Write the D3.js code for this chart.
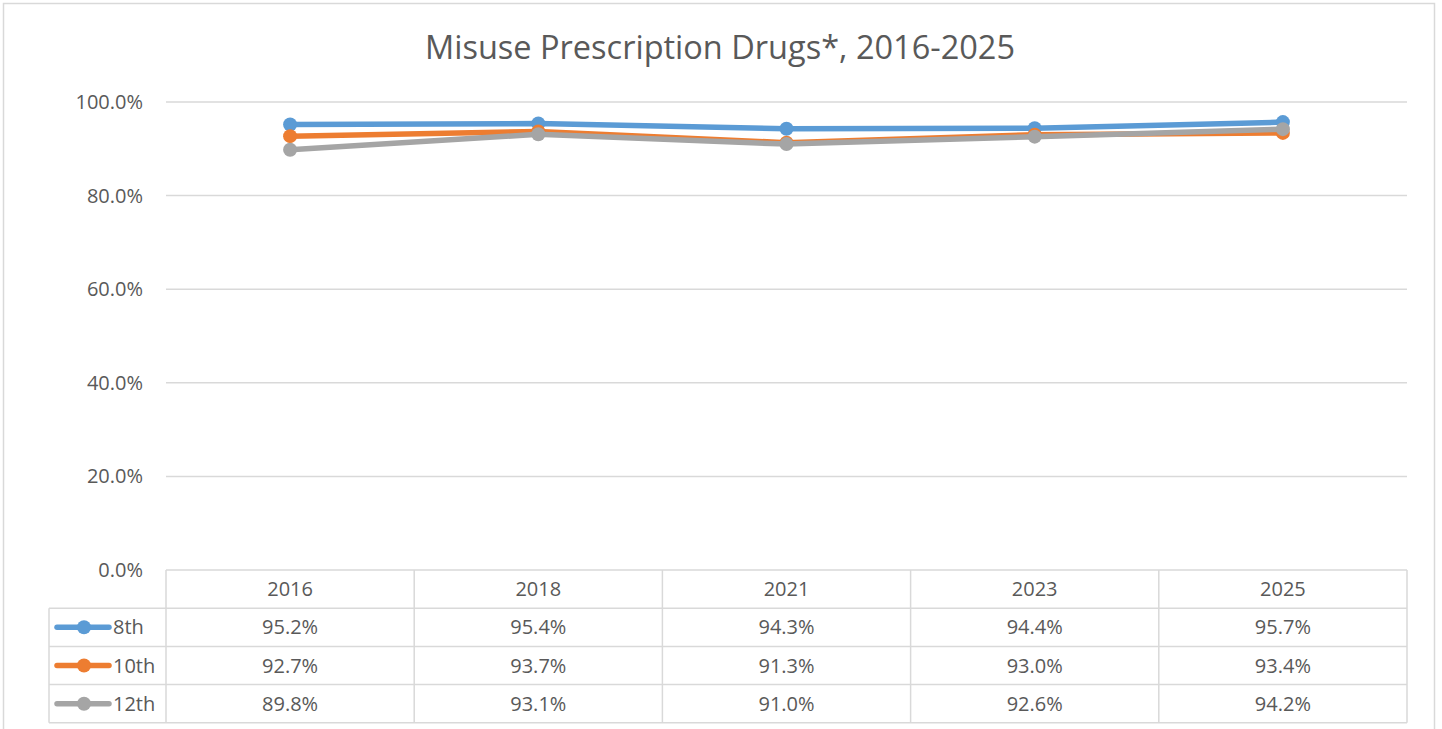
<!DOCTYPE html>
<html>
<head>
<meta charset="utf-8">
<script src="https://cdn.jsdelivr.net/npm/d3@7"></script>
<style>
  body { margin: 0; background: #fff; }
  text { font-family: "Open Sans", sans-serif; fill: #595959; }
</style>
</head>
<body>
<svg id="chart" width="1442" height="729"></svg>
<script>
// Chart data
const years = ["2016", "2018", "2021", "2023", "2025"];
const grade8 = [95.2, 95.4, 94.3, 94.4, 95.7];
const grade10 = [92.7, 93.7, 91.3, 93.0, 93.4];
const grade12 = [89.8, 93.1, 91.0, 92.6, 94.2];
const seriesNames = ["8th", "10th", "12th"];
const yTicks = [0, 20, 40, 60, 80, 100];
const colors = ["#5B9BD5", "#ED7D31", "#A5A5A5"];

const series = [grade8, grade10, grade12].map((vals, i) => ({
    name: seriesNames[i], values: vals, color: colors[i]
}));

const svg = d3.select("#chart");
const gridColor = "#d9d9d9";
const fs = "20px";

// plot area
const plotLeft = 166, plotRight = 1407, plotTop = 102, plotBottom = 570;
const rowH = 38.2;
const legendLeft = 49;

// outer border
svg.append("rect")
    .attr("x", 3.5).attr("y", 3.5)
    .attr("width", 1431).attr("height", 740)
    .attr("fill", "none").attr("stroke", gridColor).attr("stroke-width", 1.5);

// title
svg.append("text")
    .attr("x", 720).attr("y", 59)
    .attr("text-anchor", "middle")
    .style("font-size", "32.5px")
    .text("Misuse Prescription Drugs*, 2016-2025");

const xScale = d3.scaleBand().domain(years).range([plotLeft, plotRight]);
const yScale = d3.scaleLinear().domain([0, 100]).range([plotBottom, plotTop]);

// gridlines
svg.append("g").selectAll("line")
    .data(yTicks.filter(t => t > 0))
    .join("line")
    .attr("x1", plotLeft).attr("x2", plotRight)
    .attr("y1", d => yScale(d)).attr("y2", d => yScale(d))
    .attr("stroke", gridColor).attr("stroke-width", 1.5);

// y axis labels
svg.append("g").selectAll("text")
    .data(yTicks)
    .join("text")
    .attr("x", 143)
    .attr("y", d => yScale(d) + 7)
    .attr("text-anchor", "end")
    .style("font-size", fs)
    .text(d => d.toFixed(1) + "%");

// lines
const line = d3.line()
    .x((d, i) => xScale(years[i]) + xScale.bandwidth() / 2)
    .y(d => yScale(d));

series.forEach(s => {
    svg.append("path")
        .datum(s.values)
        .attr("d", line)
        .attr("fill", "none")
        .attr("stroke", s.color)
        .attr("stroke-width", 5.5)
        .attr("stroke-linejoin", "round")
        .attr("stroke-linecap", "round");
    svg.append("g").selectAll("circle")
        .data(s.values)
        .join("circle")
        .attr("cx", (d, i) => xScale(years[i]) + xScale.bandwidth() / 2)
        .attr("cy", d => yScale(d))
        .attr("r", 7)
        .attr("fill", s.color);
});

// data table
const table = svg.append("g");
const tableBottom = plotBottom + rowH * 4;

// horizontal lines
table.append("line")
    .attr("x1", plotLeft).attr("x2", plotRight)
    .attr("y1", plotBottom).attr("y2", plotBottom)
    .attr("stroke", gridColor).attr("stroke-width", 1.5);
for (let r = 1; r <= 4; r++) {
    table.append("line")
        .attr("x1", legendLeft).attr("x2", plotRight)
        .attr("y1", plotBottom + rowH * r).attr("y2", plotBottom + rowH * r)
        .attr("stroke", gridColor).attr("stroke-width", 1.5);
}
// vertical lines
table.append("line")
    .attr("x1", legendLeft).attr("x2", legendLeft)
    .attr("y1", plotBottom + rowH).attr("y2", tableBottom)
    .attr("stroke", gridColor).attr("stroke-width", 1.5);
years.forEach(y => {
    table.append("line")
        .attr("x1", xScale(y)).attr("x2", xScale(y))
        .attr("y1", plotBottom).attr("y2", tableBottom)
        .attr("stroke", gridColor).attr("stroke-width", 1.5);
});
table.append("line")
    .attr("x1", plotRight).attr("x2", plotRight)
    .attr("y1", plotBottom).attr("y2", tableBottom)
    .attr("stroke", gridColor).attr("stroke-width", 1.5);

// header
table.selectAll(".hdr")
    .data(years)
    .join("text")
    .attr("class", "hdr")
    .attr("x", d => xScale(d) + xScale.bandwidth() / 2)
    .attr("y", plotBottom + rowH / 2 + 7)
    .attr("text-anchor", "middle")
    .style("font-size", fs)
    .text(d => d);

// rows
series.forEach((s, r) => {
    const cy = plotBottom + rowH * (r + 1) + rowH / 2;
    table.append("line")
        .attr("x1", 57).attr("x2", 109)
        .attr("y1", cy).attr("y2", cy)
        .attr("stroke", s.color).attr("stroke-width", 5.5)
        .attr("stroke-linecap", "round");
    table.append("circle")
        .attr("cx", 84).attr("cy", cy).attr("r", 7)
        .attr("fill", s.color);
    table.append("text")
        .attr("x", 113).attr("y", cy + 7)
        .style("font-size", fs)
        .text(s.name);
    table.append("g").selectAll("text")
        .data(s.values)
        .join("text")
        .attr("x", (d, i) => xScale(years[i]) + xScale.bandwidth() / 2)
        .attr("y", cy + 7)
        .attr("text-anchor", "middle")
        .style("font-size", fs)
        .text(d => d.toFixed(1) + "%");
});
</script>
</body>
</html>
